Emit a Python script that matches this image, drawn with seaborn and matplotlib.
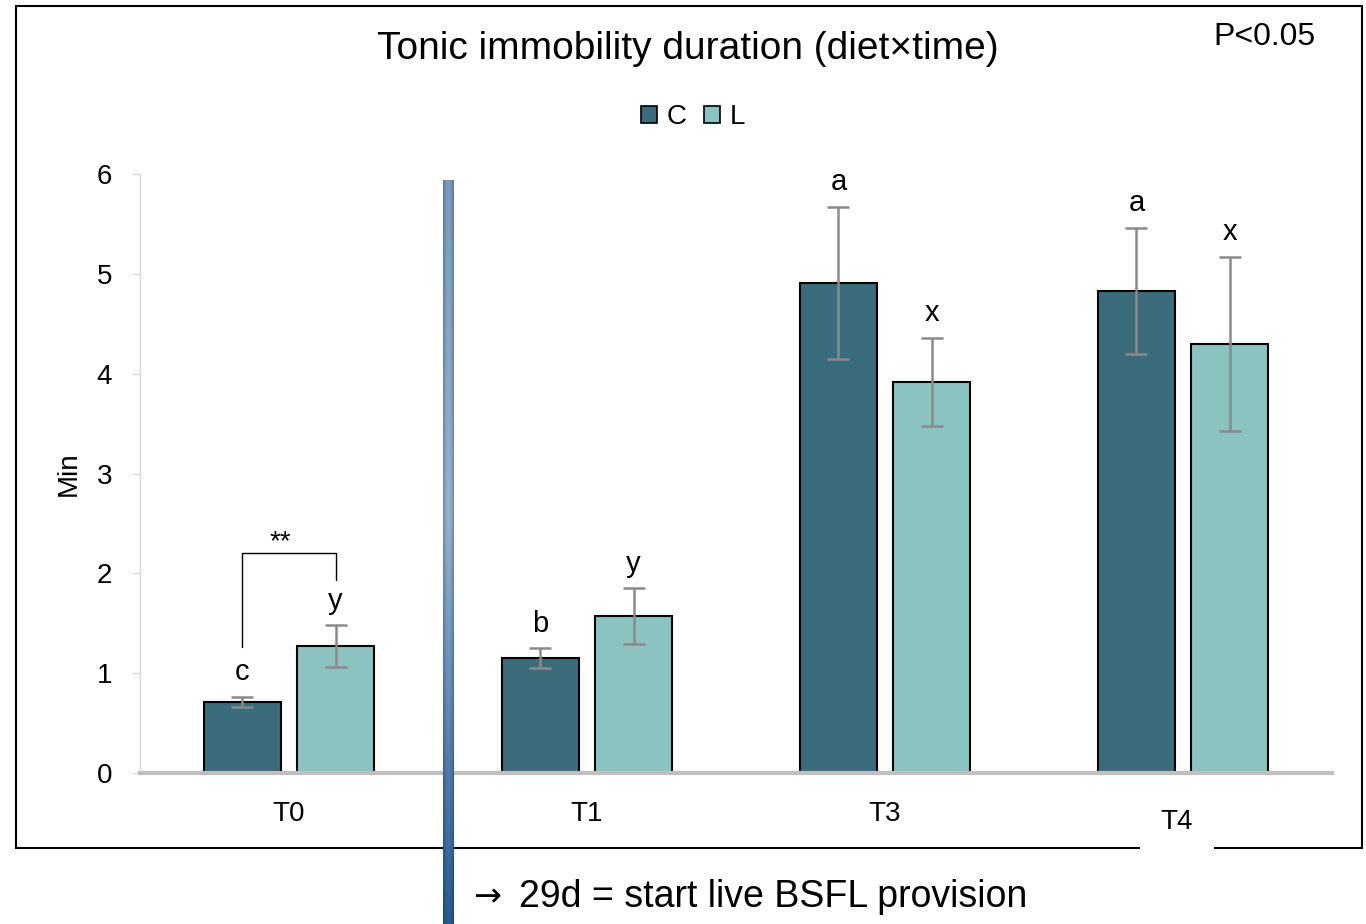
import numpy as np
import pandas as pd
import matplotlib
matplotlib.use("Agg")
import matplotlib.pyplot as plt
import seaborn as sns
from matplotlib.transforms import ScaledTranslation
from matplotlib.patches import Rectangle, Patch

# ---- data ----
times = ["T0", "T1", "T3", "T4"]
groups = ["C", "L"]
c_mean = [0.71, 1.15, 4.91, 4.83]
l_mean = [1.27, 1.57, 3.92, 4.30]
c_err = [0.05, 0.10, 0.76, 0.63]
l_err = [0.21, 0.28, 0.44, 0.87]
c_letters = ["c", "b", "a", "a"]
l_letters = ["y", "y", "x", "x"]
yticks = [0, 1, 2, 3, 4, 5, 6]

colors = {"C": "#3b6c7b", "L": "#8bc3c0"}

sns.set_theme(style="white")
plt.rcParams["font.family"] = ["Liberation Sans", "DejaVu Sans"]
plt.rcParams["text.color"] = "black"
plt.rcParams["axes.labelcolor"] = "black"

FS = 20

df = pd.DataFrame({
    "time": times * 2,
    "group": ["C"] * len(times) + ["L"] * len(times),
    "value": c_mean + l_mean,
})

fig = plt.figure(figsize=(13.66, 9.24), dpi=100)
ax = fig.add_axes([140 / 1366, 1 - 773 / 924, 1192 / 1366, 599 / 924])

sns.barplot(data=df, x="time", y="value", hue="group", order=times,
            hue_order=groups, palette=colors, width=0.625, gap=0.175,
            errorbar=None, edgecolor="black", linewidth=1.5, ax=ax,
            legend=False, saturation=1)

errs = [c_err, l_err]
letters = [c_letters, l_letters]
centers = []
bar_conts = list(ax.containers)
for gi, cont in enumerate(bar_conts):
    xs = [p.get_x() + p.get_width() / 2 for p in cont.patches]
    ys = [p.get_height() for p in cont.patches]
    centers.append(xs)
    ax.errorbar(xs, ys, yerr=errs[gi], fmt="none", ecolor="#8a8a8a",
                elinewidth=1.8, capsize=8, capthick=1.8, zorder=3)
    for x, y, e, lab in zip(xs, ys, errs[gi], letters[gi]):
        ax.annotate(lab, (x, y + e), xytext=(0, 12), textcoords="offset points",
                    ha="center", va="baseline", fontsize=FS + 1, color="black")

# significance bracket at T0
xc, xl = centers[0][0], centers[1][0]
ax.plot([xc, xc, xl, xl], [1.26, 2.20, 2.20, 1.93], color="black", lw=1.0)
ax.annotate("**", ((xc + xl) / 2, 2.20), xytext=(-6, 3), textcoords="offset points",
            ha="center", va="baseline", fontsize=FS)

ax.set_xlim(-0.5, 3.5)
ax.set_ylim(0, 6)
ax.set_yticks(yticks)
ax.set_xlabel("")
ax.set_ylabel("Min", fontsize=FS)
ax.yaxis.set_label_coords(-0.049, 0.5)

for s in ["top", "right"]:
    ax.spines[s].set_visible(False)
ax.spines["left"].set_color("#d9d9d9")
ax.spines["left"].set_linewidth(1.0)
ax.spines["bottom"].set_color("#bfbfbf")
ax.spines["bottom"].set_linewidth(3)
ax.tick_params(axis="y", left=True, length=6, width=1, color="#d9d9d9",
               pad=14, labelsize=FS, labelcolor="black")
ax.tick_params(axis="x", bottom=False, pad=14, labelsize=FS, labelcolor="black")

# T4 label dropped lower with white background
labels = ax.get_xticklabels()
t4 = labels[3]
t4.set_transform(t4.get_transform() + ScaledTranslation(-6 / 100, -8 / 100, fig.dpi_scale_trans))
t4.set_bbox(dict(boxstyle="square,pad=0.75", fc="white", ec="none"))

# legend
handles = [Patch(facecolor=colors[g], edgecolor="black", linewidth=1.2) for g in groups]
fig.legend(handles, groups, loc="center", bbox_to_anchor=(693 / 1366, 1 - 117 / 924),
           ncol=2, frameon=False, fontsize=FS, handlelength=0.58, handleheight=0.58,
           handletextpad=0.35, columnspacing=0.6)

# title and note
fig.text(688 / 1366, 1 - 49 / 924, "Tonic immobility duration (diet×time)",
         ha="center", va="center", fontsize=28)
fig.text(1264 / 1366, 1 - 37 / 924, "P<0.05", ha="center", va="center", fontsize=23)

# outer border
fig.add_artist(Rectangle((16 / 1366, 1 - 848 / 924), 1346 / 1366, 842 / 924,
                         transform=fig.transFigure, fill=False, ec="black",
                         lw=1.5, zorder=-1))

# bottom note
fig.text(473 / 1366, 1 - 897 / 924, "→", ha="left", va="center", fontsize=24,
         family=["DejaVu Sans"])
fig.text(519 / 1366, 1 - 897 / 924, "29d = start live BSFL provision",
         ha="left", va="center", fontsize=27)

# vertical gradient marker line
lax = fig.add_axes([443 / 1366, 0, 11 / 1366, (924 - 180) / 924], zorder=10)
n = 300
t = np.linspace(0, 1, n)[:, None]
stops_t = [0.0, 0.45, 1.0]
stops_c = np.array([[122, 156, 192], [150, 180, 210], [40, 92, 148]]) / 255
rgb = np.stack([np.interp(t[:, 0], stops_t, stops_c[:, k]) for k in range(3)], axis=1)
u = np.linspace(-1, 1, 12)
shade = 1 - 0.22 * u ** 2
img = rgb[:, None, :] * shade[None, :, None]
lax.imshow(np.clip(img, 0, 1), aspect="auto", extent=[0, 1, 0, 1])
lax.set_axis_off()

fig.savefig("out.png", dpi=100)
